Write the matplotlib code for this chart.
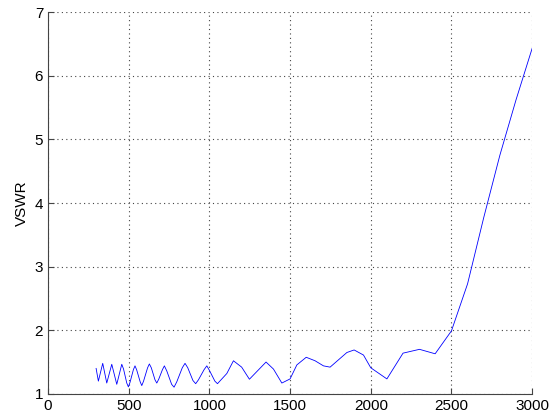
import matplotlib
matplotlib.use("Agg")
import matplotlib.pyplot as plt

freq = [298, 312, 339, 364, 395, 426, 457, 468, 488, 498, 508, 529, 539, 549,
        571, 581, 592, 617, 628, 640, 663, 674, 686, 709, 721, 736, 766, 781,
        798, 832, 849, 866, 898, 915, 932, 967, 984, 1000, 1034, 1050, 1108,
        1149, 1200, 1248, 1351, 1397, 1449, 1500, 1542, 1600, 1655, 1707,
        1748, 1852, 1897, 1955, 2000, 2100, 2200, 2302, 2399, 2500, 2600,
        2700, 2800, 2900, 3000]
vswr = [1.40, 1.20, 1.48, 1.17, 1.465, 1.15, 1.465, 1.39, 1.17, 1.11, 1.18,
        1.38, 1.44, 1.38, 1.19, 1.13, 1.20, 1.41, 1.47, 1.41, 1.22, 1.17,
        1.23, 1.38, 1.44, 1.36, 1.15, 1.105, 1.19, 1.41, 1.48, 1.41, 1.21,
        1.16, 1.22, 1.38, 1.44, 1.37, 1.20, 1.16, 1.32, 1.52, 1.42, 1.23,
        1.50, 1.39, 1.17, 1.235, 1.455, 1.575, 1.52, 1.44, 1.42, 1.65, 1.69,
        1.61, 1.41, 1.235, 1.64, 1.70, 1.63, 1.99, 2.73, 3.77, 4.75, 5.62,
        6.43]
xticks = [0, 500, 1000, 1500, 2000, 2500, 3000]
yticks = [1, 2, 3, 4, 5, 6, 7]

plt.rcParams['font.family'] = ['Liberation Sans', 'DejaVu Sans']
fig = plt.figure(figsize=(5.52, 4.19), dpi=100)
ax = fig.add_axes([0.087, 0.06, 0.877, 0.911])
ax.plot(freq, vswr, color='#0000ff', linewidth=0.6)
ax.set_xlim(0, 3000)
ax.set_ylim(1, 7)
ax.set_xticks(xticks)
ax.set_yticks(yticks)
ax.grid(True, linestyle=(0, (1, 3)), color='#444444', linewidth=0.8)
for s in ['top', 'right']:
    ax.spines[s].set_visible(False)
for s in ['left', 'bottom']:
    ax.spines[s].set_color('#444444')
    ax.spines[s].set_linewidth(0.8)
ax.tick_params(direction='in', length=4, labelsize=11, colors='#444444',
               labelcolor='black')
ax.set_ylabel('VSWR', fontsize=11, labelpad=4)
fig.savefig('out.png', dpi=100)
